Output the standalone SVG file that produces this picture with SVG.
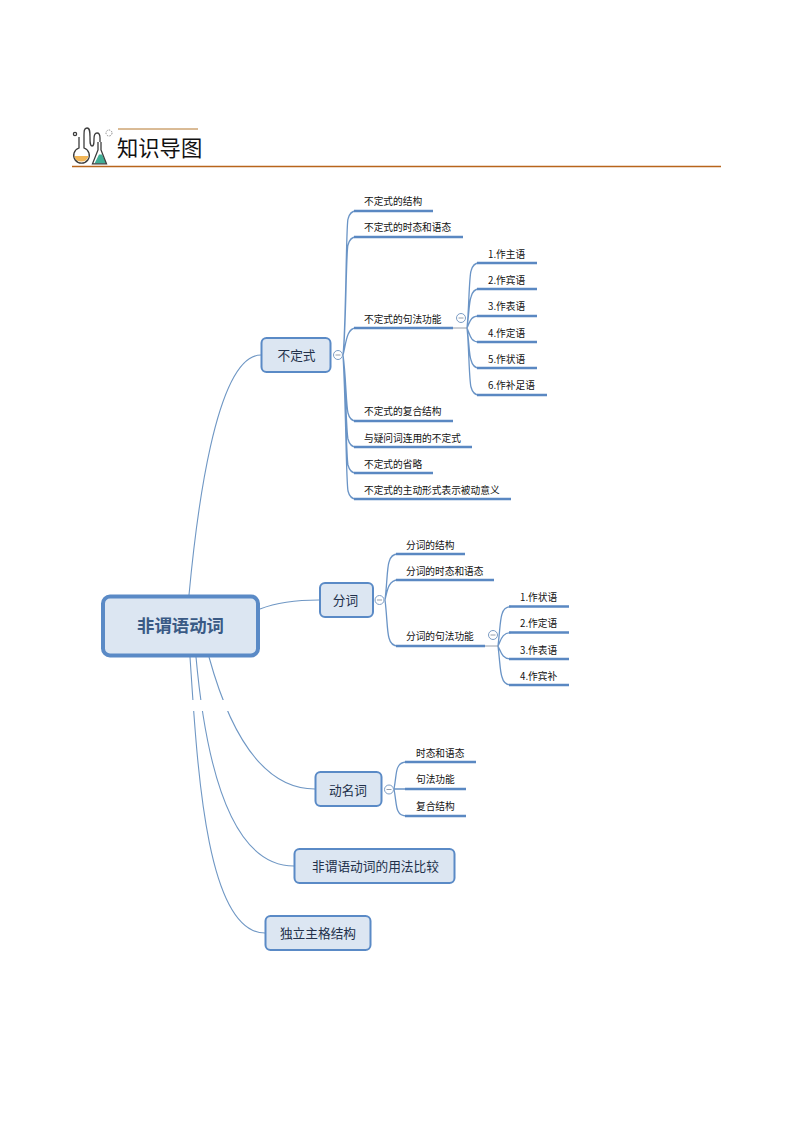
<svg xmlns="http://www.w3.org/2000/svg" width="794" height="1123" viewBox="0 0 794 1123">
<style>
text{font-family:"Noto Sans CJK SC","Liberation Sans",sans-serif}
.c{fill:none;stroke:#6f97c4;stroke-width:1.1}
.t{fill:none;stroke:#6a94c6;stroke-width:1.3}
.u{fill:none;stroke:#5a88c2;stroke-width:2.4}
.n{fill:#dce6f2;stroke:#5a8ac6;stroke-width:2}
.b{font-size:12.7px;fill:#22304a;text-anchor:middle}
.l{font-size:9.7px;fill:#111}
.f{fill:#fff;stroke:#7b9cc4;stroke-width:1}
.m{fill:none;stroke:#7b8794;stroke-width:.8}
.i{fill:none;stroke:#3c3c3c;stroke-width:1.3}
</style>
<g id="header">
<line x1="118" y1="129" x2="198" y2="129" stroke="#b4772c" stroke-width="1"/>
<line x1="72" y1="166.500" x2="721" y2="166.500" stroke="#b8651c" stroke-width="1.300"/>
<path d="M74 156a7.500 7.500 0 0 0 14.500 0z" fill="#f2b657"/>
<path d="M94.500 163.500l4.500-9 3 0 4.500 9z" fill="#3fae95"/>
<path d="M79 137v11a7.800 7.800 0 1 0 5 0v-11" class="i"/>
<path d="M84 137c0-6 0-9 3-9s3 4 3 9c0 6 0 9 2 9s2-3 2-7 1-6 3-6 3 2 3 5v4" class="i"/>
<path d="M98 142v8l-5.500 13.800h14l-5.500-13.800v-8" class="i"/>
<circle cx="75" cy="134" r="1.600" class="i"/>
<circle cx="109" cy="133" r="3" fill="none" stroke="#8a8a8a" stroke-width="1" stroke-dasharray="1.500 1.200"/>
<text x="117" y="156" font-size="21.300" fill="#111">知识导图</text>
</g>
<g id="connectors">
<path class="c" d="M189 595C196 520 215 355 261 355"/>
<path class="c" d="M260 609C278 602 295 600 319 600"/>
<path class="c" d="M209 657C225 715 255 789 315 789"/>
<path class="c" d="M196 657C204 745 225 866 294 866"/>
<path class="c" d="M190 657C197 760 205 933 265 933"/>
<rect x="186" y="700" width="45" height="11" fill="#fff"/>
<path class="t" d="M343 355C346 330 346 225 348 219Q350 211 356 211M343 355C346 335 346 250 348 245Q350 237 356 237M343 355C346 345 346 328 356 328M343 355C346 375 346 405 348 413Q350 421 356 421M343 355C346 385 346 430 348 439Q350 447 356 447M343 355C346 395 346 455 348 465Q350 473 356 473M343 355C346 405 346 480 348 491Q350 499 356 499"/>
<path class="t" d="M467 328C469 310 469 278 471 271Q473 263 479 263M467 328C469 315 469 302 471 297Q473 289 479 289M467 328C470 322 470 316 479 316M467 328C470 334 470 342 479 342M467 328C469 340 469 355 471 360Q473 368 479 368M467 328C469 345 469 380 471 387Q473 395 479 395"/>
<path class="m" d="M453 328H467"/>
<path class="t" d="M385 600C387 585 387 568 389 562Q391 554 398 554M385 600C387 592 388 580 398 580M385 600C387 615 387 632 389 638Q391 646 398 646"/>
<path class="t" d="M498 646C500 630 500 620 502 614Q504 606.500 511 606.500M498 646C501 640 502 632.500 511 632.500M498 646C501 652 502 659 511 659M498 646C500 662 500 672 502 677Q504 685 511 685"/>
<path class="m" d="M485 646H498"/>
<path class="t" d="M394 789C396 778 396 770 398 767Q400 762 407 762M394 789H407M394 789C396 800 396 808 398 811Q400 816 407 816"/>
<path class="u" d="M354 211H433M354 237H463M354 328H453M354 421H453M354 447H472M354 473H433M354 499H511"/>
<path class="u" d="M477 263H537M477 289H537M477 316H537M477 342H537M477 368H537M477 395H547"/>
<path class="u" d="M396 554H465M396 580H494M396 646H485"/>
<path class="u" d="M509 606.500H569M509 632.500H569M509 659H569M509 685H569"/>
<path class="u" d="M405 762H476M405 789H466M405 816H466"/>
</g>
<g id="root"><rect x="103" y="596.500" width="155" height="59" rx="7" fill="#dce6f2" stroke="#5a8ac6" stroke-width="4"/><text x="180.500" y="632" font-size="17.400" font-weight="700" fill="#3a5a85" text-anchor="middle">非谓语动词</text></g>
<g id="n-buding"><rect class="n" x="261.500" y="338" width="69" height="34" rx="5"/><text class="b" x="296.500" y="360">不定式</text>
<circle class="f" cx="338" cy="355" r="4.500"/><path class="m" d="M335.500 355H340.500"/></g>
<g id="n-fenci"><rect class="n" x="320" y="583" width="53" height="34" rx="5"/><text class="b" x="345.500" y="605">分词</text>
<circle class="f" cx="379.500" cy="600" r="4.500"/><path class="m" d="M377 600H382"/></g>
<g id="n-dongming"><rect class="n" x="315.500" y="772" width="66" height="34" rx="5"/><text class="b" x="348" y="795">动名词</text>
<circle class="f" cx="389" cy="789.500" r="4.500"/><path class="m" d="M386.500 789.500H391.500"/></g>
<g id="n-bijiao"><rect class="n" x="294.500" y="849" width="160" height="34" rx="5"/><text class="b" x="375.500" y="871">非谓语动词的用法比较</text></g>
<g id="n-duli"><rect class="n" x="265.500" y="916" width="105" height="34" rx="5"/><text class="b" x="318" y="938">独立主格结构</text></g>
<g id="f-buding"><circle class="f" cx="461" cy="318" r="4.500"/><path class="m" d="M458.500 318H463.500"/></g>
<g id="f-fenci"><circle class="f" cx="493" cy="635" r="4.500"/><path class="m" d="M490.500 635H495.500"/></g>
<g id="l1"><text class="l" x="364" y="205">不定式的结构</text></g>
<g id="l2"><text class="l" x="364" y="231">不定式的时态和语态</text></g>
<g id="l3"><text class="l" x="364" y="323">不定式的句法功能</text></g>
<g id="l4"><text class="l" x="364" y="415">不定式的复合结构</text></g>
<g id="l5"><text class="l" x="364" y="442">与疑问词连用的不定式</text></g>
<g id="l6"><text class="l" x="364" y="467.500">不定式的省略</text></g>
<g id="l7"><text class="l" x="364" y="494">不定式的主动形式表示被动意义</text></g>
<g id="s1"><text class="l" x="488" y="257.500">1.作主语</text></g>
<g id="s2"><text class="l" x="488" y="284">2.作宾语</text></g>
<g id="s3"><text class="l" x="488" y="310">3.作表语</text></g>
<g id="s4"><text class="l" x="488" y="336.500">4.作定语</text></g>
<g id="s5"><text class="l" x="488" y="362.500">5.作状语</text></g>
<g id="s6"><text class="l" x="488" y="389">6.作补足语</text></g>
<g id="p1"><text class="l" x="406" y="548.500">分词的结构</text></g>
<g id="p2"><text class="l" x="406" y="574.500">分词的时态和语态</text></g>
<g id="p3"><text class="l" x="406" y="640">分词的句法功能</text></g>
<g id="q1"><text class="l" x="520" y="601">1.作状语</text></g>
<g id="q2"><text class="l" x="520" y="627">2.作定语</text></g>
<g id="q3"><text class="l" x="520" y="653.500">3.作表语</text></g>
<g id="q4"><text class="l" x="520" y="680">4.作宾补</text></g>
<g id="g1"><text class="l" x="416" y="756.500">时态和语态</text></g>
<g id="g2"><text class="l" x="416" y="783">句法功能</text></g>
<g id="g3"><text class="l" x="416" y="809.500">复合结构</text></g>
</svg>
